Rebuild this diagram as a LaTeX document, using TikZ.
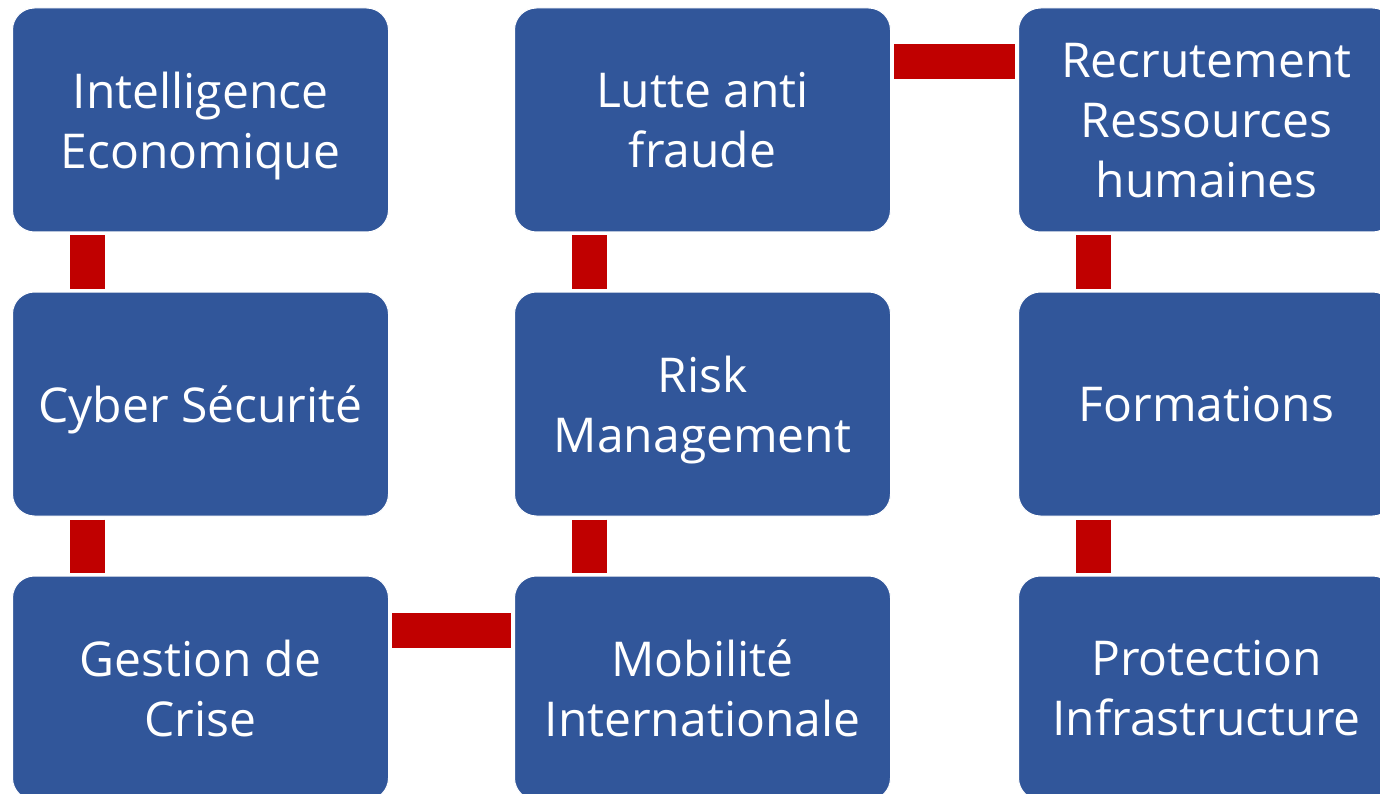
\documentclass[tikz,border=0pt]{standalone}
\usepackage{fontspec}
\setmainfont{Open Sans}
\definecolor{boxblue}{RGB}{49,86,154}
\definecolor{barred}{RGB}{192,0,0}
\begin{document}
\begin{tikzpicture}
  [x=1pt,y=-1pt,
   every node/.style={rectangle,rounded corners=22pt,fill=boxblue,draw=white,line width=1pt,
     minimum width=376pt,minimum height=224pt,text=white,align=center,text depth=0pt,
     font=\fontsize{48}{60}\selectfont},
   bar/.style={barred,line width=35pt,shorten <=3pt,shorten >=3pt}]
\useasboundingbox (0,0) rectangle (1380,794);
\clip (0,0) rectangle (1380,794);
\node (n1) at (200.5,120) {Intelligence\\Economique};
  \node (n2) at (200.5,404) {Cyber Sécurité};
  \node (n3) at (200.5,688) {Gestion de\\Crise};
  \node (n4) at (702.5,120) {Lutte anti\\fraude};
  \node (n5) at (702.5,404) {Risk\\Management};
  \node (n6) at (702.5,688) {Mobilité\\Internationale};
  \node (n7) at (1206.5,120) {Recrutement\\Ressources\\humaines};
  \node (n8) at (1206.5,404) {Formations};
  \node (n9) at (1206.5,688) {Protection\\Infrastructure};
 \foreach \from/\to in {n1/n2,n2/n3,n4/n5,n5/n6,n7/n8,n8/n9}
    \draw[bar] ([xshift=75.5pt]\from.south west) -- ([xshift=75.5pt]\to.north west);
 \foreach \from/\to in {n4/n7,n3/n6}
    \draw[bar] ([yshift=-54.5pt]\from.north east) -- ([yshift=-54.5pt]\to.north west);
\end{tikzpicture}
\end{document}
